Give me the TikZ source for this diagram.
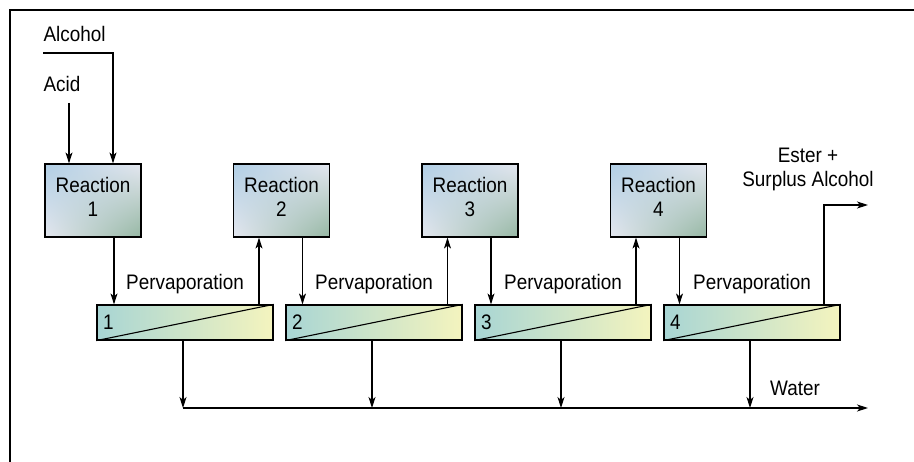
\documentclass[tikz,border=0pt]{standalone}
\usepackage{fontspec}
\setmainfont{Liberation Sans}[FakeStretch=0.9]
\usetikzlibrary{arrows.meta,shadings}

\definecolor{rblue}{HTML}{B0CEE5}
\definecolor{rpale}{HTML}{E4E7EF}
\definecolor{rgreen}{HTML}{95B7A3}
\definecolor{mteal}{HTML}{A8D5D4}
\definecolor{myellow}{HTML}{F4F4BE}

\begin{document}
\begin{tikzpicture}[x=1pt,y=-1pt,->,>={Stealth[length=11pt,width=7pt,inset=3pt]},
  line width=1.1pt,node distance=188.5pt,
  every node/.style={font=\fontsize{21}{24}\selectfont},
  reaction node/.style={draw,line width=1.2pt,minimum width=96pt,minimum height=73pt,
    text depth=7pt,align=center,upper left=rblue,upper right=rpale,lower left=rpale,
    lower right=rgreen},
  membrane node/.style={draw,line width=1.2pt,minimum width=176pt,minimum height=35pt,
    text width=164pt,inner xsep=6pt,align=left,left color=mteal,right color=myellow},
  label node/.style={inner sep=0pt,anchor=base}]

  \useasboundingbox (0,0) rectangle (914,462);
  \draw[-,line width=1.5pt] (914,10) -- (10,10) -- (10,462);

  % reactors
  \node[reaction node] (r1) at (93,200.5) {Reaction\\1};
  \node[reaction node] (r2) [right of=r1] {Reaction\\2};
  \node[reaction node] (r3) [right of=r2] {Reaction\\3};
  \node[reaction node] (r4) [right of=r3] {Reaction\\4};

  % membranes
  \node[membrane node] (m1) at (185,322.5) {1};
  \node[membrane node] (m2) [right of=m1,node distance=189pt] {2};
  \node[membrane node] (m3) [right of=m2,node distance=189pt] {3};
  \node[membrane node] (m4) [right of=m3,node distance=189pt] {4};
  \draw[-] (m1.south west) -- (m1.north east);
  \draw[-] (m2.south west) -- (m2.north east);
  \draw[-] (m3.south west) -- (m3.north east);
  \draw[-] (m4.south west) -- (m4.north east);

  \node[label node] (p1) at ([yshift=15pt]m1.north) {Pervaporation};
  \node[label node] (p2) at ([yshift=15pt]m2.north) {Pervaporation};
  \node[label node] (p3) at ([yshift=15pt]m3.north) {Pervaporation};
  \node[label node] (p4) at ([yshift=15pt]m4.north) {Pervaporation};

  % feeds
  \node[label node,anchor=base west] (alcohol) at (43,42) {Alcohol};
  \node[label node,anchor=base west] (acid) at (43,92) {Acid};
  \coordinate (alc) at (43,53);
  \draw (alc) -| ([xshift=20pt]r1.north);
  \draw ([xshift=-24pt,yshift=-10pt]r1.north |- acid.south) -- ([xshift=-24pt]r1.north);

  % reactor -> membrane -> next reactor
  \draw ([xshift=21pt]r1.south) -- ([xshift=21pt]r1.south |- m1.north);
  \draw ([xshift=21pt]r2.south) -- ([xshift=21pt]r2.south |- m2.north);
  \draw ([xshift=21pt]r3.south) -- ([xshift=21pt]r3.south |- m3.north);
  \draw ([xshift=21pt]r4.south) -- ([xshift=21pt]r4.south |- m4.north);
  \draw ([xshift=-22.5pt]r2.south |- m1.north) -- ([xshift=-22.5pt]r2.south);
  \draw ([xshift=-22.5pt]r3.south |- m2.north) -- ([xshift=-22.5pt]r3.south);
  \draw ([xshift=-22.5pt]r4.south |- m3.north) -- ([xshift=-22.5pt]r4.south);

  % product
  \coordinate (out) at (868,205);
  \draw ([xshift=72pt]m4.north) |- (out);
  \node[align=center] (ester) at (808,169) {Ester +\\Surplus Alcohol};

  % permeate
  \coordinate (w0) at (183,408);
  \coordinate (wend) at (868,408);
  \draw ([xshift=-2pt]m1.south) -- (w0);
  \draw ([xshift=-2pt]m2.south) -- ([xshift=-2pt]m2.south |- w0);
  \draw ([xshift=-2pt]m3.south) -- ([xshift=-2pt]m3.south |- w0);
  \draw ([xshift=-2pt]m4.south) -- ([xshift=-2pt]m4.south |- w0);
  \draw (w0) -- (wend);
  \node[label node] (water) at (795,396) {Water};

\end{tikzpicture}
\end{document}
